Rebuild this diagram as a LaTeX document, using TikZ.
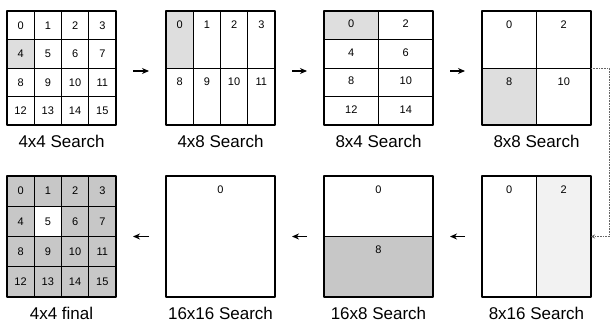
\documentclass[tikz,border=0pt]{standalone}
\usepackage{fontspec}
\setmainfont{Liberation Sans}
\usetikzlibrary{positioning,arrows.meta}
\tikzset{
  panel/.style = {draw, line width=1.5pt, inner sep=0pt, outer sep=0pt, anchor=north west},
  toprow/.style = {panel, minimum width=109pt, minimum height=114pt},
  botrow/.style = {panel, minimum width=109pt, minimum height=121pt},
  cell/.style = {line width=.8pt},
  num/.style = {font=\fontsize{11}{13}\selectfont, inner sep=0pt},
  lbl/.style = {font=\fontsize{17}{20}\selectfont, inner sep=0pt},
  lite/.style = {fill=black!13},
  dark/.style = {fill=black!22},
  faint/.style = {fill=black!5},
  go/.style = {-{Stealth[length=7pt,width=6pt]}, line width=1.6pt, shorten <=17pt, shorten >=17pt},
  link/.style = {densely dotted, black!60, line width=.6pt, -{Stealth[length=4pt,width=4pt]}}
}
\begin{document}
\begin{tikzpicture}[x=1pt, y=-1pt, line join=round]
  \useasboundingbox (0,0) rectangle (611,324);
  % top row
  \fill[lite] (7,39.5) rectangle (34.25,68);
  \fill[lite] (166,11) rectangle (193.25,68);
  \fill[lite] (324,11) rectangle (378.5,39.5);
  \fill[lite] (482,68) rectangle (536.5,125);
  \node[toprow] (s44) at (7,11) {};
  \node[toprow] (s48) at (166,11) {};
  \node[toprow] (s84) at (324,11) {};
  \node[toprow] (s88) at (482,11) {};
  \foreach \i in {1,2,3} {
    \draw[cell] (7+\i*27.25,11) -- +(0,114);
    \draw[cell] (7,11+\i*28.5) -- +(109,0);
    \draw[cell] (166+\i*27.25,11) -- +(0,114);
    \draw[cell] (324,11+\i*28.5) -- +(109,0);
  }
  \draw[cell] (166,68) -- +(109,0);
  \draw[cell] (378.5,11) -- +(0,114);
  \draw[cell] (536.5,11) -- +(0,114);
  \draw[cell] (482,68) -- +(109,0);
  \foreach \r in {0,...,3} \foreach \c in {0,...,3} {
    \pgfmathtruncatemacro\n{4*\r+\c}
    \node[num] (a\n) at (20.6+\c*27.25, 25.25+\r*28.5) {\n};
  }
  \foreach \r in {0,1} \foreach \c in {0,...,3} {
    \pgfmathtruncatemacro\n{8*\r+\c}
    \node[num] (b\n) at (179.6+\c*27.25, 25+\r*57) {\n};
  }
  \foreach \r in {0,...,3} \foreach \c in {0,1} {
    \pgfmathtruncatemacro\n{4*\r+2*\c}
    \node[num] (c\n) at (351.25+\c*54.5, 24+\r*28.5) {\n};
  }
  \foreach \r in {0,1} \foreach \c in {0,1} {
    \pgfmathtruncatemacro\n{8*\r+2*\c}
    \node[num] (d\n) at (509.25+\c*54.5, 25+\r*57) {\n};
  }
  % bottom row
  \fill[dark] (7,176) rectangle (116,297);
  \fill[white] (34.25,206.25) rectangle (61.5,236.5);
  \fill[dark] (324,236.5) rectangle (433,297);
  \fill[faint] (536.5,176) rectangle (591,297);
  \node[botrow] (f44) at (7,176) {};
  \node[botrow] (s1616) at (166,176) {};
  \node[botrow] (s168) at (324,176) {};
  \node[botrow] (s816) at (482,176) {};
  \foreach \i in {1,2,3} {
    \draw[cell] (7+\i*27.25,176) -- +(0,121);
    \draw[cell] (7,176+\i*30.25) -- +(109,0);
  }
  \draw[cell] (324,236.5) -- +(109,0);
  \draw[cell] (536.5,176) -- +(0,121);
  \foreach \r in {0,...,3} \foreach \c in {0,...,3} {
    \pgfmathtruncatemacro\n{4*\r+\c}
    \node[num] (e\n) at (20.6+\c*27.25, 191.1+\r*30.25) {\n};
  }
  \node[num] (g0) at (220.5,190) {0};
  \node[num] (h0) at (378.5,190) {0};
  \node[num] (h8) at (378.5,250) {8};
  \node[num] (k0) at (509.25,190) {0};
  \node[num] (k2) at (563.75,190) {2};
  % labels
  \node[lbl, below=10pt of s44] (l44) {4x4 Search};
  \node[lbl, below=10pt of s48] (l48) {4x8 Search};
  \node[lbl, below=10pt of s84] (l84) {8x4 Search};
  \node[lbl, below=10pt of s88] (l88) {8x8 Search};
  \node[lbl, below=10pt of f44] (lf) {4x4 final};
  \node[lbl, below=10pt of s1616] (l1616) {16x16 Search};
  \node[lbl, below=10pt of s168] (l168) {16x8 Search};
  \node[lbl, below=10pt of s816] (l816) {8x16 Search};
  % arrows
  \draw[go] ([yshift=-3pt]s44.east) -- ([yshift=-3pt]s48.west);
  \draw[go] ([yshift=-3pt]s48.east) -- ([yshift=-3pt]s84.west);
  \draw[go] ([yshift=-3pt]s84.east) -- ([yshift=-3pt]s88.west);
  \draw[link] (s88.east) -- ++(18,0) |- (s816.east);
  \draw[go] (s816.west) -- (s168.east);
  \draw[go] (s168.west) -- (s1616.east);
  \draw[go] (s1616.west) -- (f44.east);
\end{tikzpicture}
\end{document}
